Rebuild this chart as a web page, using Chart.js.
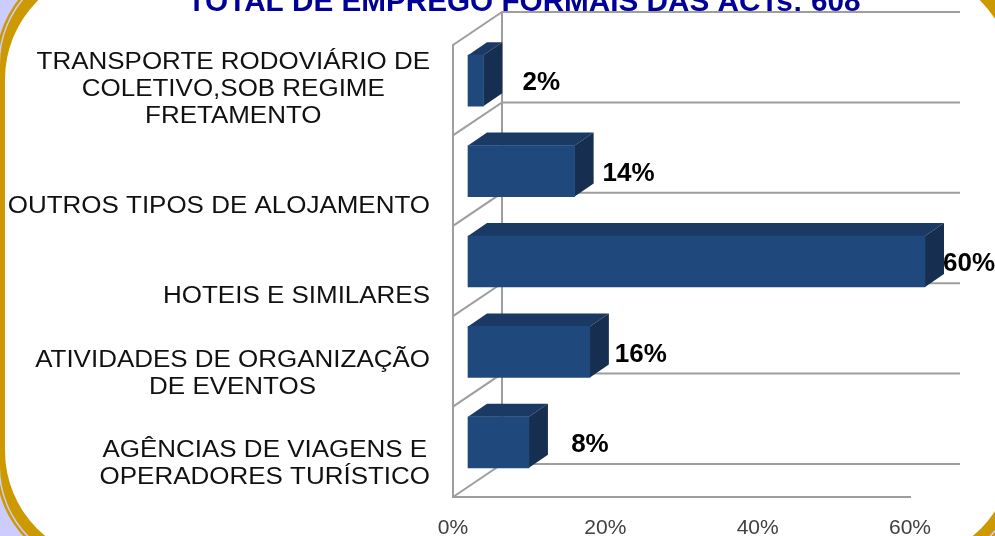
<!DOCTYPE html>
<html lang="pt">
<head>
<meta charset="utf-8">
<title>Total de emprego formais das ACTs</title>
<script src="https://cdn.jsdelivr.net/npm/chart.js@4"></script>
<style>
  html, body { margin: 0; padding: 0; width: 995px; height: 536px; overflow: hidden; background: #ccccff; }
  #moldura { position: absolute; left: 0; top: -36px; width: 1018px; height: 602px; background: #cc9900; border-radius: 100px;
             box-shadow: 0 0 0 1.5px #ccccff, 0 0 0 4px #cc9900; }
  #painel { position: absolute; left: 5px; top: 5px; width: 1008px; height: 592px; background: #fff; border-radius: 110px; }
  #grafico { position: absolute; left: 0; top: 0; }
</style>
</head>
<body>
<div id="moldura"><div id="painel"></div></div>
<canvas id="grafico" width="995" height="536"></canvas>
<script>
// Dados do grafico
const titulo = 'TOTAL DE EMPREGO FORMAIS DAS ACTs: 608';
const categorias = [
    ['TRANSPORTE RODOVIÁRIO DE', 'COLETIVO,SOB REGIME', 'FRETAMENTO'],
    ['OUTROS TIPOS DE ALOJAMENTO'],
    ['HOTEIS E SIMILARES'],
    ['ATIVIDADES DE ORGANIZAÇÃO', 'DE EVENTOS'],
    ['AGÊNCIAS DE VIAGENS E', 'OPERADORES TURÍSTICO']
];
const valores = [2, 14, 60, 16, 8];

// Aparencia 3D
const COR_GRADE = '#9e9e9e';
const COR_FRENTE = '#1f497d';
const COR_TOPO = '#1b3a63';
const COR_LADO = '#162e50';
const PAREDE = { x: 49, y: -33 };
const DESLOCA = { x: 15, y: -9.5 };
const FUNDO = { x: 19, y: -13 };
const AFASTA_ROTULO = [58, 54, 44, 51, 61];
const ESTICA_TEXTO = 1.105;

// Paredes do grafico: linhas do fundo e diagonais
const paredes = {
    id: 'paredes',
    beforeDatasetsDraw(chart) {
        const { ctx, scales: { x, y } } = chart;
        const faixa = (y.bottom - y.top) / categorias.length;
        ctx.save();
        ctx.strokeStyle = COR_GRADE;
        ctx.lineWidth = 2;
        for (let i = 0; i <= categorias.length; i++) {
            const py = y.top + faixa * i;
            ctx.beginPath();
            ctx.moveTo(x.left, py);
            ctx.lineTo(x.left + PAREDE.x, py + PAREDE.y);
            ctx.lineTo(x.right + PAREDE.x + 1, py + PAREDE.y);
            ctx.stroke();
        }
        ctx.beginPath();
        ctx.moveTo(x.left + PAREDE.x, y.top + PAREDE.y);
        ctx.lineTo(x.left + PAREDE.x, y.bottom + PAREDE.y);
        ctx.stroke();
        ctx.restore();
    }
};

// Desenha topo e lado das barras e desloca a frente para dentro do grafico
const barras3d = {
    id: 'barras3d',
    beforeDatasetDraw(chart, args) {
        const ctx = chart.ctx;
        ctx.save();
        ctx.translate(DESLOCA.x, DESLOCA.y);
        args.meta.data.forEach(el => {
            const topo = el.y - el.height / 2;
            const base = el.y + el.height / 2;
            ctx.fillStyle = COR_TOPO;
            ctx.beginPath();
            ctx.moveTo(el.base, topo);
            ctx.lineTo(el.base + FUNDO.x, topo + FUNDO.y);
            ctx.lineTo(el.x + FUNDO.x, topo + FUNDO.y);
            ctx.lineTo(el.x, topo);
            ctx.closePath();
            ctx.fill();
            ctx.fillStyle = COR_LADO;
            ctx.beginPath();
            ctx.moveTo(el.x, topo);
            ctx.lineTo(el.x + FUNDO.x, topo + FUNDO.y);
            ctx.lineTo(el.x + FUNDO.x, base + FUNDO.y);
            ctx.lineTo(el.x, base);
            ctx.closePath();
            ctx.fill();
        });
    },
    afterDatasetDraw(chart) {
        chart.ctx.restore();
    }
};

// Titulo, rotulos das categorias e valores em percentagem
const rotulos = {
    id: 'rotulos',
    afterDatasetsDraw(chart) {
        const { ctx, scales: { y } } = chart;
        const meta = chart.getDatasetMeta(0);
        ctx.save();
        ctx.textAlign = 'center';
        ctx.textBaseline = 'alphabetic';
        ctx.fillStyle = '#000099';
        ctx.font = 'bold 29.7px "Liberation Sans"';
        ctx.fillText(titulo, 524, 10.5);

        ctx.textBaseline = 'middle';
        ctx.fillStyle = '#111';
        ctx.font = '23.5px "Liberation Sans"';
        categorias.forEach((linhas, i) => {
            const largura = Math.max(...linhas.map(l => ctx.measureText(l).width)) * ESTICA_TEXTO;
            const cx = 430 - largura / 2;
            const ultima = y.getPixelForTick(i) + 26;
            linhas.forEach((l, n) => {
                ctx.save();
                ctx.translate(cx, ultima - (linhas.length - 1 - n) * 27);
                ctx.scale(ESTICA_TEXTO, 1);
                ctx.fillText(l, 0, 0);
                ctx.restore();
            });
        });
        ctx.fillStyle = '#000';
        ctx.font = 'bold 26px "Liberation Sans"';
        meta.data.forEach((el, i) => {
            ctx.fillText(valores[i] + '%', el.x + DESLOCA.x + AFASTA_ROTULO[i], el.y + DESLOCA.y + 2.5);
        });
        ctx.restore();
    }
};

new Chart(document.getElementById('grafico').getContext('2d'), {
    type: 'bar',
    data: {
        labels: categorias,
        datasets: [{
            data: valores,
            backgroundColor: COR_FRENTE,
            barThickness: 51,
            clip: false
        }]
    },
    options: {
        indexAxis: 'y',
        responsive: false,
        animation: false,
        layout: { padding: { top: 45, right: 85 } },
        plugins: {
            legend: { display: false },
            tooltip: { enabled: false }
        },
        scales: {
            x: {
                min: 0,
                max: 60,
                ticks: {
                    stepSize: 20,
                    padding: 11,
                    color: '#404040',
                    font: { family: '"Liberation Sans"', size: 21 },
                    maxRotation: 0,
                    callback: v => v + '%'
                },
                grid: { display: false },
                border: { color: COR_GRADE, width: 2 },
                afterFit(scale) { scale.height = 39; }
            },
            y: {
                ticks: { display: false, autoSkip: false },
                grid: { display: false },
                border: { color: COR_GRADE, width: 2 },
                afterFit(scale) { scale.width = 453; }
            }
        }
    },
    plugins: [paredes, barras3d, rotulos]
});
</script>
</body>
</html>
